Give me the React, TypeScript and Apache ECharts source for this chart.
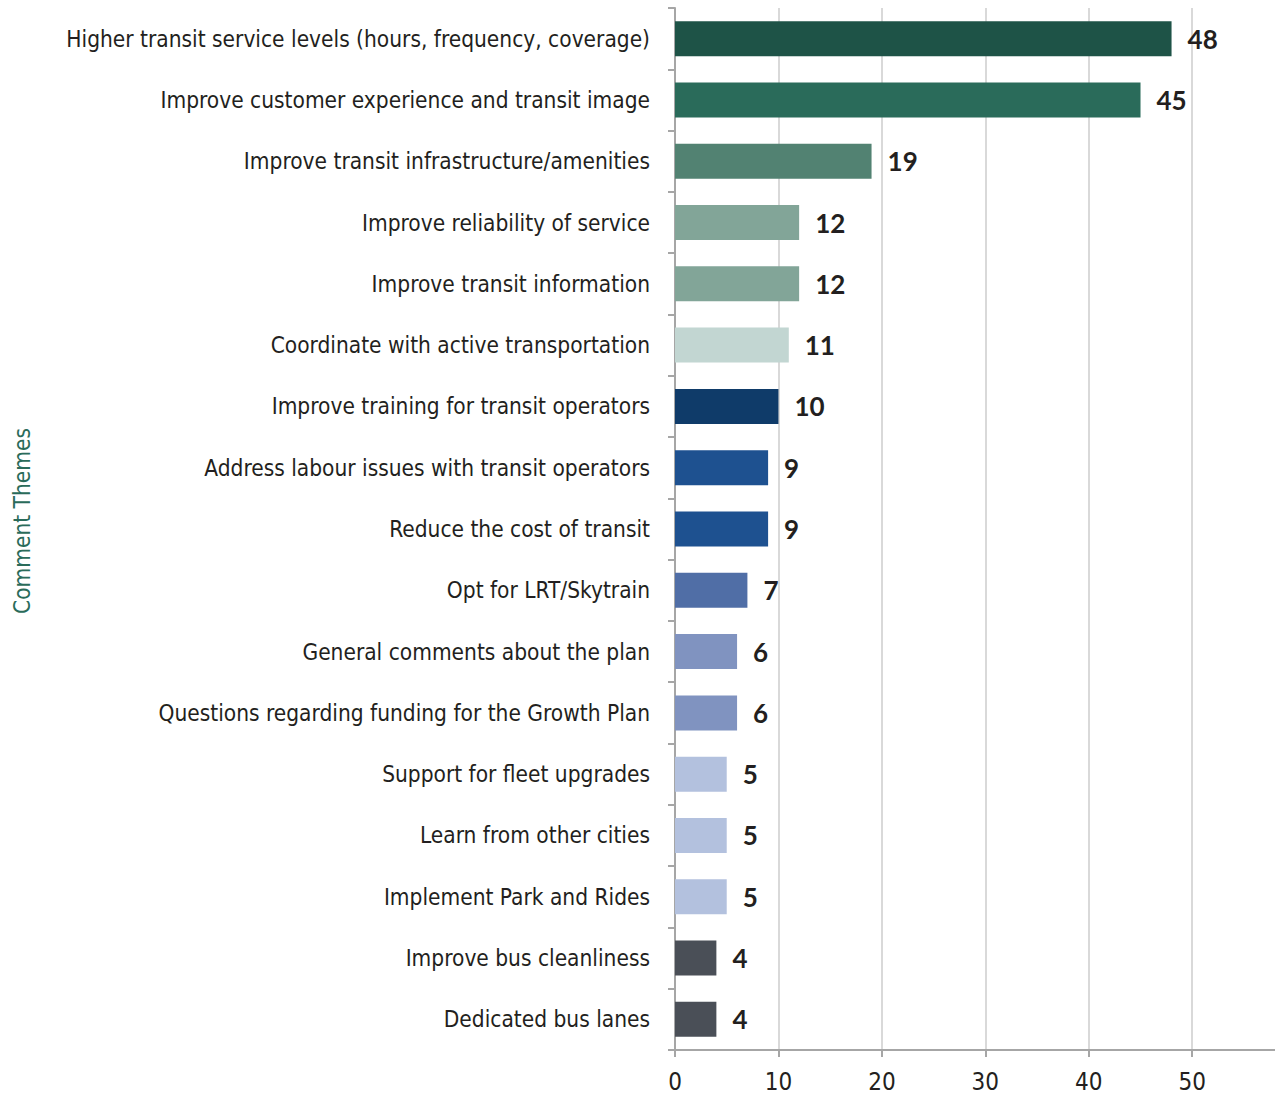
import React, { useEffect, useRef } from "react";
import * as echarts from "echarts";

const categories = [
  "Higher transit service levels (hours, frequency, coverage)",
  "Improve customer experience and transit image",
  "Improve transit infrastructure/amenities",
  "Improve reliability of service",
  "Improve transit information",
  "Coordinate with active transportation",
  "Improve training for transit operators",
  "Address labour issues with transit operators",
  "Reduce the cost of transit",
  "Opt for LRT/Skytrain",
  "General comments about the plan",
  "Questions regarding funding for the Growth Plan",
  "Support for fleet upgrades",
  "Learn from other cities",
  "Implement Park and Rides",
  "Improve bus cleanliness",
  "Dedicated bus lanes",
];

const values = [48, 45, 19, 12, 12, 11, 10, 9, 9, 7, 6, 6, 5, 5, 5, 4, 4];

const barColors = [
  "#1e5347", "#2a6b5a", "#528272", "#82a598", "#82a598", "#c2d6d2",
  "#0f3b69", "#1e5190", "#1e5190", "#506ea6", "#8093c0", "#8093c0",
  "#b3c1de", "#b3c1de", "#b3c1de", "#4a4f57", "#4a4f57",
];

const axisTitle = "Comment Themes";

const condensed = "'Liberation Sans Narrow', 'DejaVu Sans Condensed', 'Roboto Condensed', sans-serif";

export default function App() {
  const ref = useRef<HTMLDivElement>(null);
  useEffect(() => {
    document.body.style.margin = "0";
    const chart = echarts.init(ref.current!, null, { renderer: "svg" });
    chart.setOption({
      animation: false,
      grid: { left: 675, right: 0, top: 8, bottom: 45, containLabel: false },
      xAxis: {
        type: "value",
        min: 0,
        max: 58,
        interval: 10,
        axisLine: { show: true, lineStyle: { color: "#a6a6a6", width: 2 } },
        axisTick: { show: true, length: 7, lineStyle: { color: "#a6a6a6", width: 2 } },
        axisLabel: {
          margin: 20,
          fontFamily: condensed,
          fontSize: 24,
          color: "#231f20",
          formatter: (v: number) => (v > 50 ? "" : String(v)),
          showMaxLabel: false,
        },
        splitLine: { show: true, showMinLine: false, showMaxLine: false, lineStyle: { color: "#d9d9d9", width: 2 } },
      },
      yAxis: {
        type: "category",
        inverse: true,
        data: categories,
        axisLine: { show: true, lineStyle: { color: "#a6a6a6", width: 2 } },
        axisTick: { show: true, length: 7, lineStyle: { color: "#a6a6a6", width: 2 } },
        axisLabel: {
          margin: 25,
          fontFamily: condensed,
          fontSize: 22.5,
          color: "#231f20",
        },
      },
      graphic: [
        {
          type: "text",
          x: 22,
          y: 521,
          rotation: Math.PI / 2,
          style: {
            text: axisTitle,
            fontFamily: condensed,
            fontSize: 22.5,
            fill: "#2a6b5a",
            textAlign: "center",
            textVerticalAlign: "middle",
          },
        },
      ],
      series: [
        {
          type: "bar",
          barWidth: 35,
          data: values.map((v, i) => ({ value: v, itemStyle: { color: barColors[i] } })),
          label: {
            show: true,
            position: "right",
            distance: 16,
            fontFamily: "Lato, 'Open Sans', sans-serif",
            fontWeight: "bold",
            fontSize: 26,
            color: "#231f20",
          },
        },
      ],
    });
    return () => chart.dispose();
  }, []);
  return <div ref={ref} style={{ width: 1275, height: 1095 }} />;
}
